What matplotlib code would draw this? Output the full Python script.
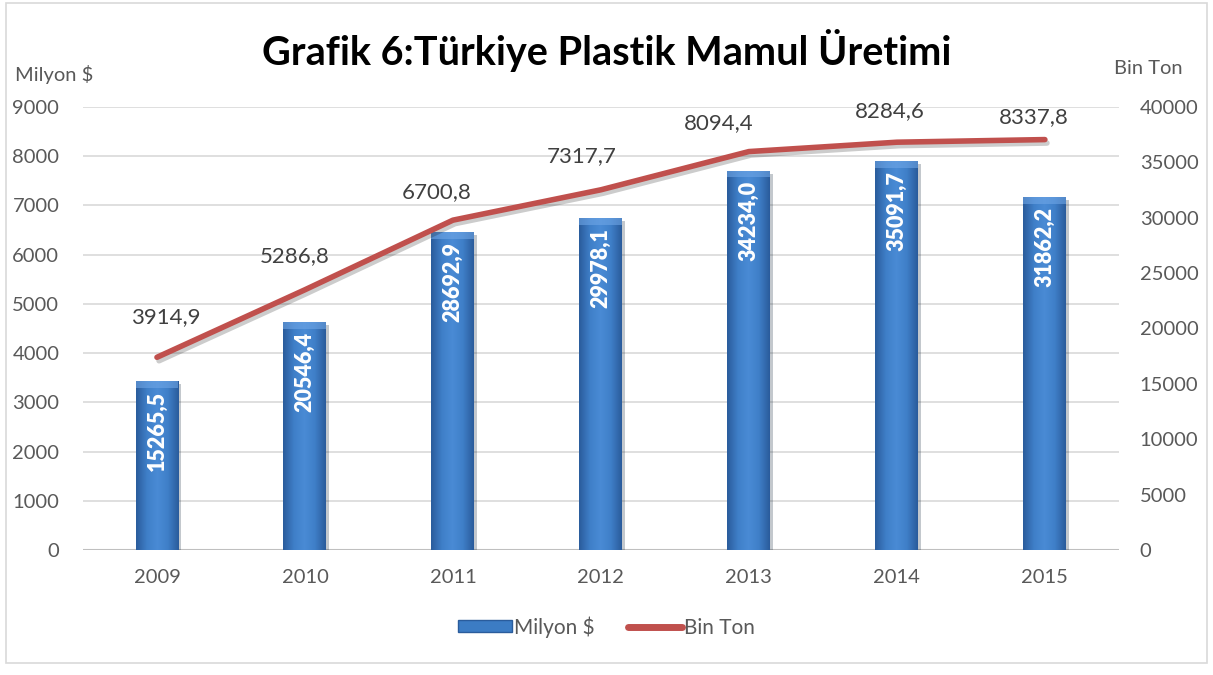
import numpy as np
import matplotlib
matplotlib.use("Agg")
import matplotlib.pyplot as plt
import matplotlib.patheffects as pe
from matplotlib.colors import LinearSegmentedColormap
from matplotlib.patches import Rectangle
from matplotlib.lines import Line2D

plt.rcParams["font.family"] = ["Lato", "DejaVu Sans"]

# === DADOS ===
yillar = ["2009", "2010", "2011", "2012", "2013", "2014", "2015"]
bin_ton_cubuk = [15265.5, 20546.4, 28692.9, 29978.1, 34234.0, 35091.7, 31862.2]
milyon_cizgi = [3914.9, 5286.8, 6700.8, 7317.7, 8094.4, 8284.6, 8337.8]
sol_ticks = [0, 1000, 2000, 3000, 4000, 5000, 6000, 7000, 8000, 9000]
sag_ticks = [0, 5000, 10000, 15000, 20000, 25000, 30000, 35000, 40000]

def fmt_tr(v):
    return f"{v:.1f}".replace(".", ",")

# === FIGURA ===
fig = plt.figure(figsize=(12.13, 6.75), dpi=100)
fig.patches.append(Rectangle((0.005, 0.018), 0.99, 0.978, transform=fig.transFigure,
                             fill=False, edgecolor="#D9D9D9", linewidth=1.2))

ax = fig.add_axes([0.0684, 0.1852, 0.854, 0.6563])
ax2 = ax.twinx()
x = np.arange(len(yillar))

# eixo da esquerda (linha) fica por cima das barras
ax.set_zorder(ax2.get_zorder() + 1)
ax.patch.set_visible(False)

ax.set_ylim(0, 9000)
ax2.set_ylim(0, 40000)
ax.set_xlim(-0.5, len(yillar) - 0.5)

ax.set_yticks(sol_ticks)
ax2.set_yticks(sag_ticks)
for a in (ax, ax2):
    for s in a.spines.values():
        s.set_visible(False)
    a.tick_params(length=0, labelsize=14.5, labelcolor="#595959")
ax.tick_params(axis="y", pad=17)
ax2.tick_params(axis="y", pad=15)
ax.tick_params(axis="x", pad=14)
ax.set_xticks(x)
ax.set_xticklabels(yillar)

# grade no eixo das barras
ax2.grid(False)
for t in sol_ticks[1:]:
    ax2.axhline(t * 40000 / 9000, color="#D9D9D9", linewidth=1.2, zorder=0)
ax2.axhline(0, color="#BFBFBF", linewidth=1.5, zorder=0)

# barras com gradiente
largura = 0.29
cmap = LinearSegmentedColormap.from_list("azul", ["#2A5C9C", "#3F7FC8", "#4A8BD5", "#3F7FC8", "#2A5C9C"])
grad = np.linspace(0, 1, 64).reshape(1, -1)
barras = ax2.bar(x, bin_ton_cubuk, width=largura, color="#3C7CC4", zorder=2,
                 path_effects=[pe.SimplePatchShadow(offset=(2, -2), alpha=0.25), pe.Normal()])
for b in barras:
    x0, w, h = b.get_x(), b.get_width(), b.get_height()
    im = ax2.imshow(grad, extent=[x0, x0 + w, 0, h], cmap=cmap, aspect="auto", zorder=2.5,
                    interpolation="bicubic")
    im.set_clip_path(b)
    ax2.add_patch(Rectangle((x0, h - 600), w, 600, color="#6FA6E6", alpha=0.6, zorder=2.6, linewidth=0))
ax2.set_xlim(-0.5, len(yillar) - 0.5)

for xi, v in zip(x, bin_ton_cubuk):
    ax2.annotate(fmt_tr(v), (xi, v), xytext=(0, -7), textcoords="offset points",
                 rotation=90, ha="center", va="top", color="white", fontsize=15.5,
                 fontweight="heavy", zorder=3)

# linha
ax.plot(x, milyon_cizgi, color="#C0504D", linewidth=4, solid_capstyle="round", zorder=4,
        path_effects=[pe.SimpleLineShadow(offset=(1.5, -2.5), alpha=0.2), pe.Normal()])
desloc = [(6, 22), (-7, 17), (-12, 13), (-14, 17), (-22, 13), (-5, 15), (-8, 9)]
for xi, v, (dx, dy) in zip(x, milyon_cizgi, desloc):
    ax.annotate(fmt_tr(v), (xi, v), xytext=(dx, dy), textcoords="offset points",
                ha="center", va="bottom", fontsize=16, color="#404040", zorder=5)

# titulos
fig.text(0.5, 0.925, "Grafik 6:Türkiye Plastik Mamul Üretimi", ha="center", va="center",
         fontsize=28.5, fontweight="bold", color="black")
fig.text(0.012, 0.889, "Milyon $", ha="left", va="center", fontsize=14.5, color="#595959")
fig.text(0.918, 0.899, "Bin Ton", ha="left", va="center", fontsize=14.5, color="#595959")

# legenda
h1 = Rectangle((0, 0), 1, 1, facecolor="#3C7CC4", edgecolor="#2A5C9C")
h2 = Line2D([0], [0], color="#C0504D", linewidth=5, solid_capstyle="round")
fig.legend([h1, h2], ["Milyon $", "Bin Ton"], loc="center", bbox_to_anchor=(0.5, 0.071),
           ncol=2, frameon=False, fontsize=15, handlelength=2.6, handleheight=0.5,
           handletextpad=0.1, columnspacing=1.6, labelcolor="#595959")

fig.savefig("out.png", dpi=100)
